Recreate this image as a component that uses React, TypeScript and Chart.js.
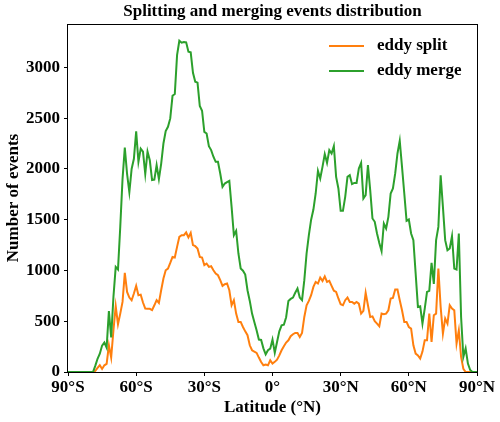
import React, { useEffect, useRef } from "react";
import { Chart, registerables } from "chart.js";

Chart.register(...registerables);

const FONT = "'Liberation Serif', 'Times New Roman', serif";

// Latitude bins, one per degree from 90°S to 90°N
const latitudes = [
  -90, -89, -88, -87, -86, -85, -84, -83, -82, -81, -80, -79,
  -78, -77, -76, -75, -74, -73, -72, -71, -70,
  -69, -68, -67, -66, -65, -64, -63, -62, -61, -60,
  -59, -58, -57, -56, -55, -54, -53, -52, -51, -50,
  -49, -48, -47, -46, -45, -44, -43, -42, -41, -40,
  -39, -38, -37, -36, -35, -34, -33, -32, -31, -30,
  -29, -28, -27, -26, -25, -24, -23, -22, -21, -20,
  -19, -18, -17, -16, -15, -14, -13, -12, -11, -10,
  -9, -8, -7, -6, -5, -4, -3, -2, -1, 0,
  1, 2, 3, 4, 5, 6, 7, 8, 9, 10,
  11, 12, 13, 14, 15, 16, 17, 18, 19, 20,
  21, 22, 23, 24, 25, 26, 27, 28, 29, 30,
  31, 32, 33, 34, 35, 36, 37, 38, 39, 40,
  41, 42, 43, 44, 45, 46, 47, 48, 49, 50,
  51, 52, 53, 54, 55, 56, 57, 58, 59, 60,
  61, 62, 63, 64, 65, 66, 67, 68, 69, 70,
  71, 72, 73, 74, 75, 76, 77, 78, 79, 80,
  81, 82, 83, 84, 85, 86, 87, 88, 89, 90,
];

const eddySplit = [
  0, 0, 0, 0, 0, 0, 0, 0, 0, 0, 0, 0,
  10, 40, 66, 30, 66, 80, 263, 142, 411,
  648, 470, 575, 690, 976, 789, 733, 707, 773, 848,
  756, 762, 684, 625, 622, 622, 610, 657, 707, 680,
  805, 920, 1002, 1019, 1074, 1134, 1128, 1232, 1331, 1347,
  1347, 1374, 1325, 1370, 1249, 1239, 1216, 1134, 1128, 1052,
  1068, 1035, 1042, 1002, 970, 953, 904, 848, 865, 871,
  805, 657, 707, 575, 493, 493, 443, 400, 362, 263,
  214, 200, 188, 142, 99, 66, 73, 66, 115, 83,
  100, 122, 164, 214, 253, 290, 312, 352, 372, 385,
  385, 345, 385, 542, 657, 700, 756, 838, 887, 871,
  930, 897, 941, 887, 897, 848, 800, 789, 724, 667,
  657, 707, 733, 690, 690, 673, 690, 673, 575, 602,
  779, 657, 542, 548, 500, 477, 451, 575, 569, 575,
  608, 723, 730, 812, 812, 707, 608, 493, 493, 443,
  427, 263, 181, 164, 132, 201, 312, 312, 575, 296,
  559, 575, 1019, 641, 378, 526, 477, 657, 624, 608,
  280, 411, 148, 30, 0, 0, 0, 0, 0, 0,
];

const eddyMerge = [
  0, 0, 0, 0, 0, 0, 0, 0, 0, 0, 0, 0,
  60, 130, 180, 260, 290, 240, 600, 340, 740,
  1035, 1010, 1430, 1900, 2210, 1950, 1770, 2000, 2100, 2370,
  2070, 2200, 2170, 1950, 2170, 2085, 1890, 1895, 2037, 1900,
  2050, 2250, 2372, 2415, 2497, 2720, 2737, 3120, 3262, 3243,
  3250, 3246, 3154, 3148, 2947, 2858, 2849, 2619, 2573, 2365,
  2349, 2224, 2185, 2120, 2070, 2070, 1955, 1823, 1856, 1870,
  1882, 1626, 1347, 1390, 1167, 1019, 998, 960, 805, 700,
  575, 493, 411, 319, 316, 233, 174, 214, 230, 319,
  190, 296, 400, 460, 466, 540, 700, 720, 733, 780,
  822, 733, 707, 904, 1167, 1347, 1500, 1600, 1758, 1981,
  1905, 2020, 2146, 2060, 2185, 2152, 2224, 1922, 1807, 1587,
  1587, 1725, 1922, 1938, 1850, 1862, 1862, 2005, 2060, 1709,
  1742, 2037, 1791, 1512, 1479, 1364, 1271, 1190, 1462, 1413,
  1528, 1758, 1807, 1955, 2152, 2277, 2020, 1758, 1488, 1502,
  1364, 1298, 970, 641, 647, 477, 624, 789, 799, 1074,
  868, 1298, 1429, 1938, 1626, 1298, 1199, 1216, 1337, 1019,
  1009, 1364, 542, 148, 233, 83, 20, 0, 0, 0,
];

const yTicks = [0, 500, 1000, 1500, 2000, 2500, 3000];
const xTicks = [-90, -60, -30, 0, 30, 60, 90];
const xTickLabels = ["90°S", "60°S", "30°S", "0°", "30°N", "60°N", "90°N"];
const Y_MAX = 3427;

const TITLE = "Splitting and merging events distribution";
const X_TITLE = "Latitude (°N)";
const Y_TITLE = "Number of events";

const SPLIT_COLOR = "#ff7f0e";
const MERGE_COLOR = "#2ca02c";
const LINE_WIDTH = 2;

export default function App() {
  const ref = useRef<HTMLCanvasElement>(null);

  useEffect(() => {
    if (!ref.current) return;

    const decorations = {
      id: "decorations",
      afterDraw(chart: any) {
        const { ctx, chartArea } = chart;
        const { left, right, top, bottom } = chartArea;
        ctx.save();
        // axes frame
        ctx.strokeStyle = "#000";
        ctx.lineWidth = 1;
        ctx.strokeRect(left - 0.5, top + 0.5, right - left + 1, bottom - top);

        ctx.fillStyle = "#000";
        ctx.font = `bold 17px ${FONT}`;
        ctx.textBaseline = "middle";
        ctx.textAlign = "center";
        const cx = (left + right) / 2;
        ctx.fillText(TITLE, cx, 12);
        ctx.fillText(X_TITLE, cx, 408);

        ctx.save();
        ctx.translate(14, (top + bottom) / 2);
        ctx.rotate(-Math.PI / 2);
        ctx.fillText(Y_TITLE, 0, 0);
        ctx.restore();

        // legend
        const entries = [
          { label: "eddy split", color: SPLIT_COLOR, y: 46 },
          { label: "eddy merge", color: MERGE_COLOR, y: 71 },
        ];
        ctx.textAlign = "left";
        ctx.lineWidth = LINE_WIDTH;
        for (const e of entries) {
          ctx.strokeStyle = e.color;
          ctx.beginPath();
          ctx.moveTo(329, e.y);
          ctx.lineTo(364, e.y);
          ctx.stroke();
          ctx.fillStyle = "#000";
          ctx.fillText(e.label, 377, e.y);
        }
        ctx.restore();
      },
    };

    const tickFont = { family: FONT, size: 17, weight: "bold" as const };

    const chart = new Chart(ref.current, {
      type: "line",
      data: {
        datasets: [
          {
            label: "eddy split",
            data: latitudes.map((x, i) => ({ x, y: eddySplit[i] })),
            borderColor: SPLIT_COLOR,
            borderWidth: LINE_WIDTH,
            pointRadius: 0,
            fill: false,
            tension: 0,
            order: 1,
          },
          {
            label: "eddy merge",
            data: latitudes.map((x, i) => ({ x, y: eddyMerge[i] })),
            borderColor: MERGE_COLOR,
            borderWidth: LINE_WIDTH,
            pointRadius: 0,
            fill: false,
            tension: 0,
            order: 0,
          },
        ],
      },
      options: {
        responsive: false,
        animation: false,
        layout: { padding: { top: 24, right: 23, left: 0, bottom: 0 } },
        plugins: {
          legend: { display: false },
          title: { display: false },
          tooltip: { enabled: false },
        },
        scales: {
          x: {
            type: "linear",
            min: -90,
            max: 90,
            afterBuildTicks: (s: any) => {
              s.ticks = xTicks.map((v) => ({ value: v }));
            },
            afterFit: (s: any) => {
              s.height = 50;
            },
            ticks: {
              callback: (v: any) => xTickLabels[xTicks.indexOf(Number(v))] ?? "",
              font: tickFont,
              color: "#000",
              padding: 1,
              maxRotation: 0,
              autoSkip: false,
            },
            grid: { drawOnChartArea: false, tickLength: 4, color: "#000", lineWidth: 1 },
            border: { display: false },
          },
          y: {
            type: "linear",
            min: 0,
            max: Y_MAX,
            afterBuildTicks: (s: any) => {
              s.ticks = yTicks.map((v) => ({ value: v }));
            },
            afterFit: (s: any) => {
              s.width = 68;
            },
            ticks: {
              callback: (v: any) => String(v),
              font: tickFont,
              color: "#000",
              padding: 4,
            },
            grid: { drawOnChartArea: false, tickLength: 4, color: "#000", lineWidth: 1 },
            border: { display: false },
          },
        },
      },
      plugins: [decorations],
    });

    return () => chart.destroy();
  }, []);

  return (
    <div style={{ position: "absolute", left: 0, top: 0, width: 500, height: 422, background: "#fff" }}>
      <canvas ref={ref} width={500} height={422} style={{ display: "block" }} />
    </div>
  );
}
